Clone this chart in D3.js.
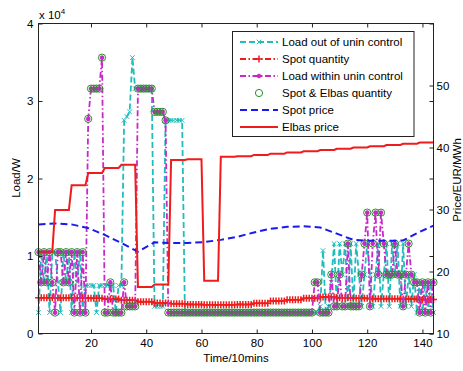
<!DOCTYPE html>
<html>
<head>
<meta charset="utf-8">
<script src="https://cdn.jsdelivr.net/npm/d3@7"></script>
<style>
  body { margin: 0; background: #fff; }
  text { font-family: "Liberation Sans", Arial, Helvetica, sans-serif; font-size: 11.5px; }
</style>
</head>
<body>
<svg id="chart" width="463" height="371"></svg>
<script>
// time axis: 144 ten-minute steps (one day)
const xTicks = [20, 40, 60, 80, 100, 120, 140];
const loadTicks = [0, 1, 2, 3, 4];          // x 10^4 W
const priceTicks = [10, 20, 30, 40, 50];    // EUR/MWh

// load series, x 10^4 W, one value per 10-min step
const loadOut = [
  0.27, 1.05, 0.66, 1.05, 0.27, 1.05, 1.05, 0.66, 0.27, 1.05, 0.66, 1.05, 0.27, 1.05, 0.66, 1.05, 0.27, 0.62,
  0.62, 0.62, 0.62, 0.27, 0.62, 0.62, 0.62, 0.62, 0.62, 0.62, 0.27, 0.62, 0.62, 2.75, 2.80, 2.86, 3.56, 3.16,
  3.16, 3.16, 3.16, 3.16, 3.16, 3.16, 0.35, 0.35, 0.35, 0.35, 2.75, 2.75, 2.75, 2.75, 2.75, 2.75, 2.75, 0.27,
  0.27, 0.27, 0.27, 0.27, 0.27, 0.27, 0.27, 0.27, 0.27, 0.27, 0.27, 0.27, 0.27, 0.27, 0.27, 0.27, 0.27, 0.27,
  0.27, 0.27, 0.27, 0.27, 0.27, 0.27, 0.27, 0.27, 0.27, 0.27, 0.27, 0.27, 0.27, 0.27, 0.27, 0.27, 0.27, 0.27,
  0.27, 0.27, 0.27, 0.27, 0.27, 0.27, 0.27, 0.27, 0.27, 0.27, 0.27, 0.27, 0.35, 1.07, 0.27, 0.35, 0.66, 1.16,
  0.35, 1.16, 0.76, 1.16, 0.35, 1.16, 0.35, 1.16, 0.76, 0.35, 0.76, 1.16, 0.76, 0.35, 0.76, 1.16, 0.35, 0.76,
  1.16, 0.35, 1.16, 0.76, 1.16, 0.35, 1.16, 0.35, 0.76, 0.35, 0.76, 0.27, 0.66, 0.27, 0.66, 0.27, 0.66, 0.27
];
const loadWithin = [
  1.05, 0.66, 1.05, 0.66, 1.05, 0.66, 0.27, 1.05, 1.05, 0.66, 1.05, 0.66, 1.05, 0.27, 1.05, 0.27, 1.05, 0.27,
  2.77, 3.16, 3.16, 3.16, 3.16, 3.56, 0.27, 0.27, 0.66, 0.27, 0.27, 0.27, 0.27, 0.66, 0.35, 0.35, 0.35, 0.35,
  3.16, 3.16, 3.16, 3.16, 3.16, 3.16, 2.86, 2.86, 2.86, 2.86, 2.75, 0.27, 0.27, 0.27, 0.27, 0.27, 0.27, 0.27,
  0.27, 0.27, 0.27, 0.27, 0.27, 0.27, 0.27, 0.27, 0.27, 0.27, 0.27, 0.27, 0.27, 0.27, 0.27, 0.27, 0.27, 0.27,
  0.27, 0.27, 0.27, 0.27, 0.27, 0.27, 0.27, 0.27, 0.27, 0.27, 0.27, 0.27, 0.27, 0.27, 0.27, 0.27, 0.27, 0.27,
  0.27, 0.27, 0.27, 0.27, 0.27, 0.27, 0.27, 0.27, 0.27, 0.27, 0.66, 0.66, 0.27, 0.27, 0.27, 0.27, 0.76, 0.35,
  0.35, 0.76, 0.35, 0.35, 1.16, 0.35, 0.35, 0.35, 0.35, 0.76, 1.16, 1.56, 0.35, 1.16, 1.56, 0.76, 1.56, 1.16,
  0.76, 0.76, 0.76, 1.16, 0.76, 0.76, 0.35, 0.76, 1.16, 0.76, 0.66, 0.66, 0.27, 0.66, 0.27, 0.66, 0.27, 0.66
];
const spotElbasQty = [
  1.05, 0.66, 1.05, 0.66, 1.05, 0.66, 0.27, 1.05, 1.05, 0.66, 1.05, 0.66, 1.05, 0.27, 1.05, 0.27, 1.05, 0.27,
  2.77, 3.16, 3.16, 3.16, 3.16, 3.56, 0.27, 0.27, 0.66, 0.27, 0.27, 0.27, 0.27, 0.66, 0.35, 0.35, 0.35, 0.35,
  3.16, 3.16, 3.16, 3.16, 3.16, 3.16, 2.86, 2.86, 2.86, 2.86, 2.75, 0.27, 0.27, 0.27, 0.27, 0.27, 0.27, 0.27,
  0.27, 0.27, 0.27, 0.27, 0.27, 0.27, 0.27, 0.27, 0.27, 0.27, 0.27, 0.27, 0.27, 0.27, 0.27, 0.27, 0.27, 0.27,
  0.27, 0.27, 0.27, 0.27, 0.27, 0.27, 0.27, 0.27, 0.27, 0.27, 0.27, 0.27, 0.27, 0.27, 0.27, 0.27, 0.27, 0.27,
  0.27, 0.27, 0.27, 0.27, 0.27, 0.27, 0.27, 0.27, 0.27, 0.27, 0.66, 0.66, 0.27, 0.27, 0.27, 0.27, 0.76, 0.35,
  0.35, 0.76, 0.35, 0.35, 1.16, 0.35, 0.35, 0.35, 0.35, 0.76, 1.16, 1.56, 0.35, 1.16, 1.56, 0.76, 1.56, 1.16,
  0.76, 0.76, 0.76, 1.16, 0.76, 0.76, 0.35, 0.76, 1.16, 0.76, 0.66, 0.66, 0.27, 0.66, 0.27, 0.66, 0.27, 0.66
];

// hourly values (held for the six 10-min steps of each hour)
const spotQtyHourly = [0.46, 0.46, 0.46, 0.455, 0.445, 0.43, 0.41, 0.395, 0.385, 0.375, 0.37, 0.37,
                       0.375, 0.39, 0.42, 0.435, 0.455, 0.47, 0.46, 0.455, 0.45, 0.45, 0.445, 0.44];
const elbasPriceHourly = [23.2, 29.9, 33.9, 35.9, 36.7, 37.2, 17.5, 17.9, 38.0, 38.1, 18.5, 38.5,
                          38.6, 38.8, 39.0, 39.2, 39.4, 39.6, 39.8, 40.0, 40.2, 40.4, 40.6, 40.8];
// spot price at the start of each hour, plus the last step
const spotPriceHourly = [27.6, 27.75, 27.6, 27.0, 25.9, 24.6, 23.2, 24.7, 24.6, 24.6, 24.75, 25.1,
                         25.6, 26.3, 26.9, 27.2, 27.3, 27.1, 26.1, 25.1, 24.95, 24.95, 25.0, 26.4, 27.4];

const CYAN = '#22bcbc', RED = '#ee1c1c', MAGENTA = '#c828c8', GREEN = '#2a8f2a', BLUE = '#1a1aee';

const svg = d3.select('#chart');
const plot = { left: 38.5, right: 433.5, top: 23.5, bottom: 333.5 };

const x = d3.scaleLinear().domain([1, 144]).range([plot.left, plot.right]);
const yLoad = d3.scaleLinear().domain([0, 4]).range([plot.bottom, plot.top]);
const yPrice = d3.scaleLinear().domain([10, 60]).range([plot.bottom, plot.top]);

const steps = d3.range(1, 145);
const hourOf = t => Math.floor((t - 1) / 6);
const knots = d3.range(1, 144, 6).concat([144]);

const markPath = {
  plus: s => `M${-s},0H${s}M0,${-s}V${s}`,
  times: s => `M${-s},${-s}L${s},${s}M${-s},${s}L${s},${-s}`,
  star: s => {
    const k = s * 0.7;
    return `M${-s},0H${s}M0,${-s}V${s}M${-k},${-k}L${k},${k}M${-k},${k}L${k},${-k}`;
  },
  circle: s => `M${s},0A${s},${s} 0 1,1 ${-s},0A${s},${s} 0 1,1 ${s},0Z`
};

const series = [
  { name: 'Load out of unin control', points: steps.map((t, i) => [t, loadOut[i]]), y: yLoad,
    color: CYAN, width: 1.8, dash: '6,3', mark: 'times', size: 2.3 },
  { name: 'Spot quantity', points: steps.map(t => [t, spotQtyHourly[hourOf(t)]]), y: yLoad,
    color: RED, width: 1.8, dash: '6,2.5,1.5,2.5', mark: 'plus', size: 3.5, markWidth: 1.5 },
  { name: 'Load within unin control', points: steps.map((t, i) => [t, loadWithin[i]]), y: yLoad,
    color: MAGENTA, width: 1.8, dash: '6,2.5,1.5,2.5', mark: 'star', size: 2.3, markWidth: 1.4 },
  { name: 'Spot & Elbas quantity', points: steps.map((t, i) => [t, spotElbasQty[i]]), y: yLoad,
    color: GREEN, width: 0, mark: 'circle', size: 3.6 },
  { name: 'Spot price', points: knots.map((t, i) => [t, spotPriceHourly[i]]), y: yPrice,
    color: BLUE, width: 2, dash: '7,4' },
  { name: 'Elbas price', points: steps.map(t => [t, elbasPriceHourly[hourOf(t)]]), y: yPrice,
    color: RED, width: 2 }
];

series.forEach(s => {
  const g = svg.append('g');
  if (s.width) {
    g.append('path').datum(s.points)
      .attr('d', d3.line().x(d => x(d[0])).y(d => s.y(d[1])))
      .attr('fill', 'none').attr('stroke', s.color).attr('stroke-width', s.width)
      .attr('stroke-dasharray', s.dash || null);
  }
  if (s.mark) {
    g.selectAll('path.m').data(s.points).join('path').attr('class', 'm')
      .attr('transform', d => `translate(${x(d[0])},${s.y(d[1])})`)
      .attr('d', markPath[s.mark](s.size))
      .attr('fill', 'none').attr('stroke', s.color).attr('stroke-width', s.markWidth || 1);
  }
});

// axes, ticks pointing inward
function styleAxis(g) {
  g.attr('font-size', null).attr('font-family', null);
  g.select('.domain').remove();
  g.selectAll('.tick line').attr('stroke', '#222');
  g.selectAll('.tick text').attr('fill', '#000');
}
svg.append('g').attr('transform', `translate(${plot.left},0)`)
  .call(d3.axisLeft(yLoad).tickValues(loadTicks).tickFormat(d3.format('d')).tickSize(-4).tickPadding(5))
  .call(styleAxis);
svg.append('g').attr('transform', `translate(${plot.right},0)`)
  .call(d3.axisRight(yLoad).tickValues(loadTicks).tickSize(-4).tickFormat('')).call(styleAxis);
svg.append('g').attr('transform', `translate(${plot.right},0)`)
  .call(d3.axisRight(yPrice).tickValues(priceTicks).tickFormat(d3.format('d')).tickSize(-4).tickPadding(3))
  .call(styleAxis);
svg.append('g').attr('transform', `translate(0,${plot.bottom})`)
  .call(d3.axisBottom(x).tickValues(xTicks).tickFormat(d3.format('d')).tickSize(-4).tickPadding(5))
  .call(styleAxis);
svg.append('g').attr('transform', `translate(0,${plot.top})`)
  .call(d3.axisTop(x).tickValues(xTicks).tickSize(-4).tickFormat('')).call(styleAxis);

svg.append('rect')
  .attr('x', plot.left).attr('y', plot.top)
  .attr('width', plot.right - plot.left).attr('height', plot.bottom - plot.top)
  .attr('fill', 'none').attr('stroke', '#222');

// labels
const exp = svg.append('text').attr('x', 39).attr('y', 18.5).text('x 10');
exp.append('tspan').attr('dy', -5).attr('font-size', '8px').text('4');
svg.append('text').attr('transform', 'translate(20,178) rotate(-90)')
  .attr('text-anchor', 'middle').text('Load/W');
svg.append('text').attr('x', 236).attr('y', 362).attr('text-anchor', 'middle').text('Time/10mins');
svg.append('text').attr('transform', 'translate(460.5,180) rotate(-90)')
  .attr('text-anchor', 'middle').text('Price/EUR/MWh');

// legend
const legend = svg.append('g');
legend.append('rect').attr('x', 232.5).attr('y', 31.5).attr('width', 181.5).attr('height', 105)
  .attr('fill', '#fff').attr('stroke', '#222');
series.forEach((s, i) => {
  const ly = 42 + i * 17;
  if (s.width) {
    legend.append('line').attr('x1', 240).attr('x2', 278).attr('y1', ly).attr('y2', ly)
      .attr('stroke', s.color).attr('stroke-width', s.width).attr('stroke-dasharray', s.dash || null);
  }
  if (s.mark) {
    legend.append('path').attr('transform', `translate(259,${ly})`)
      .attr('d', markPath[s.mark](s.size))
      .attr('fill', 'none').attr('stroke', s.color).attr('stroke-width', s.markWidth || 1);
  }
  legend.append('text').attr('x', 282).attr('y', ly).attr('dy', '0.35em').text(s.name);
});
</script>
</body>
</html>
